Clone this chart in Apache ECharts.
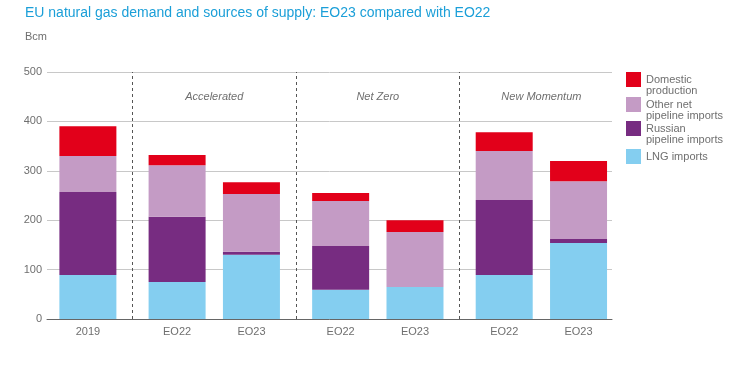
<!DOCTYPE html>
<html>
<head>
<meta charset="utf-8">
<script src="https://cdn.jsdelivr.net/npm/echarts@6/dist/echarts.min.js"></script>
<style>html,body{margin:0;padding:0;background:#fff;}#c{width:749px;height:379px;}</style>
</head>
<body>
<div id="c"></div>
<script>
// ---- data ----
const barLabels = ['2019', 'EO22', 'EO23', 'EO22', 'EO23', 'EO22', 'EO23'];
const groupNames = ['Accelerated', 'Net Zero', 'New Momentum'];
const lngImports = [89, 75, 130, 59, 65, 89, 154];
const russianPipeline = [168, 132, 6, 89, 0, 152, 8];
const otherPipeline = [73, 104, 117, 91, 111, 99, 117];
const domesticProduction = [60, 21, 24, 16, 24, 38, 41];
const yTicks = [0, 100, 200, 300, 400, 500];
const legendNames = ['Domestic\nproduction', 'Other net\npipeline imports', 'Russian\npipeline imports', 'LNG imports'];

// ---- layout (category slots on a fine-grained axis) ----
const SLOT_COUNT = 76;
const barSlots = [5, 17, 27, 39, 49, 61, 71];
const dividerSlots = [11, 33, 55];
const groupLabelSlots = [22, 44, 66];
const legendTops = [58, 83, 107, 144];

const slots = Array.from({length: SLOT_COUNT}, (_, i) => 's' + i);
const labelMap = {};
barSlots.forEach((s, i) => { labelMap[s] = barLabels[i]; });
function pad(arr) {
  const out = new Array(SLOT_COUNT).fill('-');
  barSlots.forEach((s, i) => { out[s] = arr[i]; });
  return out;
}

const FONT = 'Liberation Sans';
const colors = {
  domestic: '#e2001a',
  other: '#c49bc5',
  russian: '#772c81',
  lng: '#84cef0'
};

const chart = echarts.init(document.getElementById('c'), null, {renderer: 'canvas'});
const barBase = {type: 'bar', stack: 'total', barWidth: 57, silent: true};

// two-line legend labels are top-aligned with their swatch (blank leading line)
const legends = legendNames.map((n, i) => ({
  orient: 'vertical', left: 621, top: legendTops[i],
  itemWidth: 15, itemHeight: 15,
  icon: 'rect', selectedMode: false,
  data: [n],
  formatter: name => (name.indexOf('\n') >= 0 ? ' \n' + name : name),
  textStyle: {fontFamily: FONT, fontSize: 11, color: '#6f6f6f', lineHeight: 11}
}));

chart.setOption({
  animation: false,
  textStyle: {fontFamily: FONT},
  title: [
    {text: 'EU natural gas demand and sources of supply: EO23 compared with EO22',
     left: 20, top: 1,
     textStyle: {fontFamily: FONT, fontSize: 14, fontWeight: 'normal', color: '#1b9fd8'}},
    {text: 'Bcm', left: 20, top: 26,
     textStyle: {fontFamily: FONT, fontSize: 11, fontWeight: 'normal', color: '#6f6f6f'}}
  ],
  legend: legends,
  grid: {left: 47, right: 137, top: 72, bottom: 60},
  xAxis: {
    type: 'category', data: slots, boundaryGap: true,
    axisTick: {show: false},
    axisLine: {lineStyle: {color: '#666', width: 1}},
    axisLabel: {interval: 0, margin: 7, fontSize: 11, color: '#6f6f6f', fontFamily: FONT,
      formatter: (v, i) => labelMap[i] || ''}
  },
  yAxis: {
    type: 'value', min: yTicks[0], max: yTicks[yTicks.length - 1], interval: 100,
    axisLine: {show: false}, axisTick: {show: false},
    axisLabel: {fontSize: 11, color: '#6f6f6f', margin: 5, fontFamily: FONT},
    splitLine: {lineStyle: {color: '#c8c8c8', width: 1}}
  },
  series: [
    Object.assign({name: 'LNG imports', data: pad(lngImports), itemStyle: {color: colors.lng}}, barBase),
    Object.assign({name: 'Russian\npipeline imports', data: pad(russianPipeline), itemStyle: {color: colors.russian}}, barBase),
    Object.assign({name: 'Other net\npipeline imports', data: pad(otherPipeline), itemStyle: {color: colors.other}}, barBase),
    Object.assign({name: 'Domestic\nproduction', data: pad(domesticProduction), itemStyle: {color: colors.domestic}}, barBase),
    {
      type: 'line', name: 'markers', data: [], silent: true,
      markLine: {
        silent: true, symbol: ['none', 'none'],
        label: {show: false},
        lineStyle: {type: [3, 3], color: '#555', width: 1},
        data: dividerSlots.map(s => ({xAxis: s}))
      },
      markPoint: {
        silent: true, symbol: 'rect', symbolSize: 1,
        itemStyle: {color: 'rgba(0,0,0,0)'},
        label: {show: true, position: 'inside', fontStyle: 'italic', fontSize: 11,
          color: '#6f6f6f', fontFamily: FONT, formatter: p => p.name},
        data: groupLabelSlots.map((s, i) => ({name: groupNames[i], coord: [s, 450]}))
      }
    }
  ]
});
</script>
</body>
</html>
